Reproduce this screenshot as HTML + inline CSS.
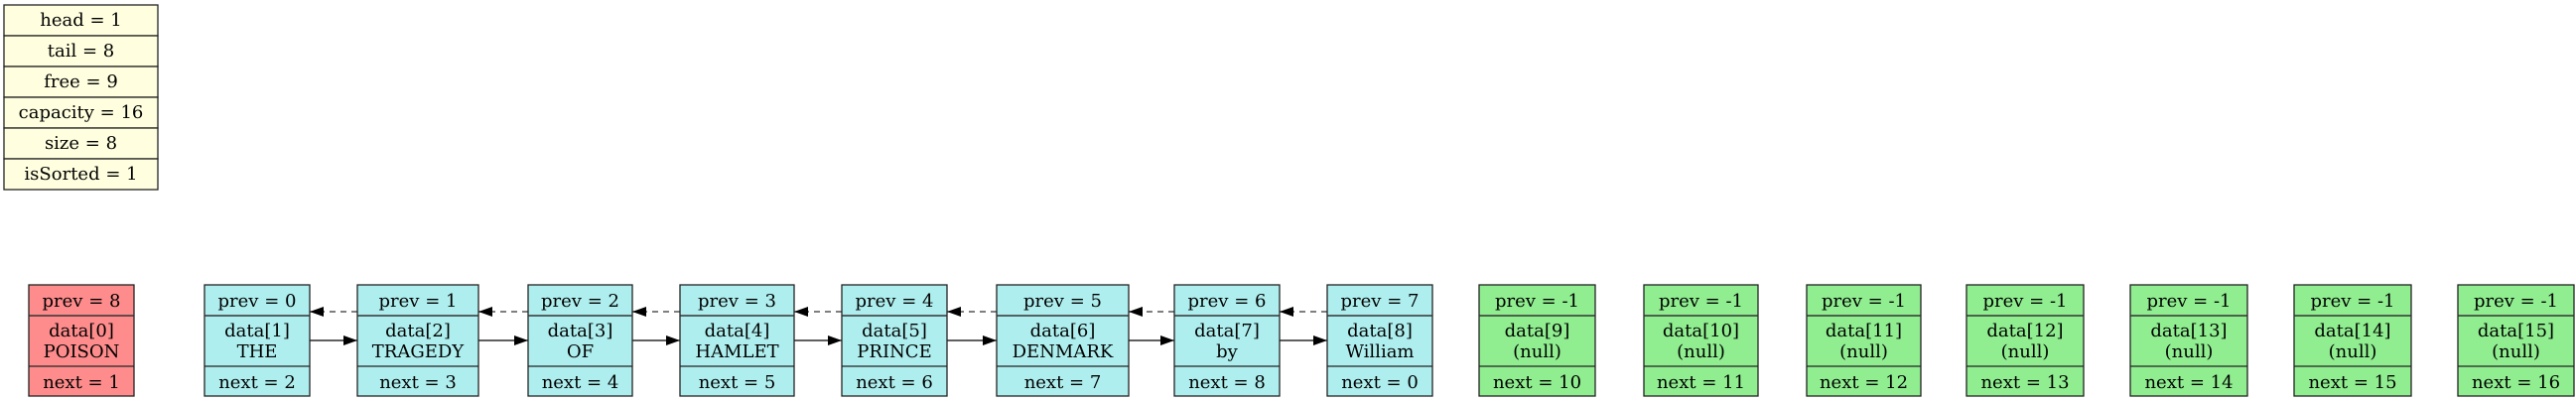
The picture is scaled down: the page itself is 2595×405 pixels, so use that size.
<!DOCTYPE html>
<html><head><meta charset="utf-8"><style>
html,body{margin:0;padding:0;background:#fff;}
svg{display:block;}
text{font-family:"DejaVu Serif","Liberation Serif",serif;font-size:18px;fill:#000;}
</style></head><body>
<svg id="s" width="2595" height="405" viewBox="0 0 2595 405" xmlns="http://www.w3.org/2000/svg">
<defs>
<marker id="ah" markerWidth="14" markerHeight="10" refX="14" refY="5" orient="auto" markerUnits="userSpaceOnUse"><path d="M0,0 L14,5 L0,10 Z" fill="#000"/></marker>
</defs>
<g id="info"></g>
<g id="edges"></g>
<g id="nodes"></g>
</svg>
<script>
const infoLabels=["head = 1","tail = 8","free = 9","capacity = 16","size = 8","isSorted = 1"];
const nodeLeft=[29,206,360,532,685,848,1004,1183,1337,1490,1656,1820,1981,2146,2311,2476];
const nodeRight=[135,312,482,637,800,954,1137,1289,1443,1607,1771,1935,2099,2264,2429,2593];
const prevVals=[8,0,1,2,3,4,5,6,7,-1,-1,-1,-1,-1,-1,-1];
const nextVals=[1,2,3,4,5,6,7,8,0,10,11,12,13,14,15,16];
const dataVals=["POISON","THE","TRAGEDY","OF","HAMLET","PRINCE","DENMARK","by","William","(null)","(null)","(null)","(null)","(null)","(null)","(null)"];
const NS="http://www.w3.org/2000/svg";
function mk(tag,attrs,parent){const e=document.createElementNS(NS,tag);for(const k in attrs)e.setAttribute(k,attrs[k]);parent.appendChild(e);return e;}
const info=document.getElementById('info');
const ix=4,iw=155,iy=5,ih=31;
infoLabels.forEach((t,i)=>{
  const r=mk('rect',{x:ix,y:iy+i*ih,width:iw,height:ih,fill:'#ffffe0',stroke:'#222','stroke-width':1.3},info);
  
  
  const tx=mk('text',{x:ix+iw/2,y:iy+i*ih+21,'text-anchor':'middle'},info);
  tx.textContent=t;
  
  
});
const rowTop=287,div1=318,div2=369,rowBot=399;
const nodesG=document.getElementById('nodes'),edgesG=document.getElementById('edges');
nodeLeft.forEach((x0,i)=>{
  const x1=nodeRight[i],w=x1-x0,cx=(x0+x1)/2;
  const fill=i===0?'#ff8c8c':(prevVals[i]===-1?'#90ee90':'#afeeee');
  const g=mk('g',{},nodesG);
  
  
  mk('rect',{x:x0,y:rowTop,width:w,height:rowBot-rowTop,fill:fill,stroke:'#222','stroke-width':1.3},g);
  mk('line',{x1:x0,y1:div1,x2:x1,y2:div1,stroke:'#333','stroke-width':1.5},g);
  mk('line',{x1:x0,y1:div2,x2:x1,y2:div2,stroke:'#222','stroke-width':1.3},g);
  const t1=mk('text',{x:cx,y:rowTop+22,'text-anchor':'middle'},g);t1.textContent='prev = '+prevVals[i];
  
  
  const t2=mk('text',{x:cx,y:div1+21,'text-anchor':'middle'},g);t2.textContent='data['+i+']';
  
  
  const t3=mk('text',{x:cx,y:div1+42,'text-anchor':'middle'},g);t3.textContent=dataVals[i];
  
  
  const t4=mk('text',{x:cx,y:div2+22,'text-anchor':'middle'},g);t4.textContent='next = '+nextVals[i];
  
  
});
for(let i=1;i<8;i++){
  const a=mk('line',{x1:nodeRight[i],y1:343,x2:nodeLeft[i+1],y2:343,stroke:'#000','stroke-width':1.3,'marker-end':'url(#ah)'},edgesG);
  
  
  const b=mk('line',{x1:nodeLeft[i+1],y1:314,x2:nodeRight[i],y2:314,stroke:'#555','stroke-width':1.5,'stroke-dasharray':'6,5','marker-end':'url(#ah)'},edgesG);
  
  
}
</script>
</body></html>
